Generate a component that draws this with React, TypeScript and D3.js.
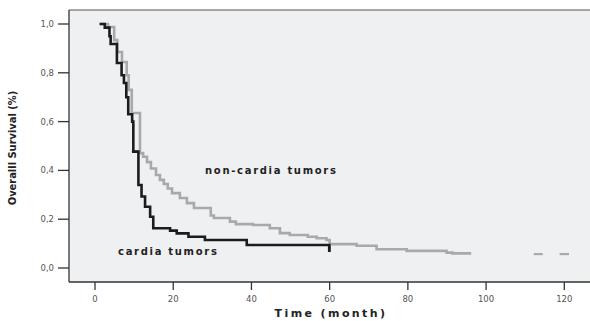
import * as d3 from "d3";

// Kaplan-Meier steps (month, survival)
const cardiaTime = [1.2, 2.5, 3.7, 4.0, 5.6, 6.8, 7.4, 8.0, 8.5, 9.5, 9.8, 11.1, 11.9, 12.8, 14.1, 14.9, 19.2, 20.9, 23.9, 28.1, 38.8, 59.9];
const cardiaSurv = [1.0, 0.985, 0.95, 0.918, 0.84, 0.79, 0.758, 0.7, 0.63, 0.6, 0.477, 0.34, 0.293, 0.251, 0.21, 0.163, 0.153, 0.142, 0.128, 0.115, 0.094, 0.066];
const cardiaCensor = [10.2];

const nonCardiaTime = [1.1, 3.3, 4.9, 5.7, 6.9, 8.1, 8.6, 9.4, 11.5, 12.3, 13.3, 14.3, 15.6, 16.6, 17.6, 18.6, 19.7, 21.7, 23.5, 25.3, 29.6, 30.4, 34.5, 36, 40.4, 44.7, 47.3, 49.8, 54.4, 56.7, 59.2, 60, 66.9, 72, 79.7, 89.9, 91.4, 96.2];
const nonCardiaSurv = [1.0, 0.988, 0.934, 0.885, 0.844, 0.79, 0.73, 0.635, 0.471, 0.456, 0.434, 0.408, 0.381, 0.361, 0.344, 0.326, 0.307, 0.287, 0.266, 0.246, 0.215, 0.205, 0.19, 0.18, 0.176, 0.163, 0.143, 0.135, 0.128, 0.122, 0.115, 0.098, 0.091, 0.077, 0.07, 0.063, 0.06, 0.06];
const nonCardiaCensorStart = [112.2, 118.8];
const nonCardiaCensorEnd = [114.5, 121.2];
const nonCardiaCensorSurv = 0.057;

const xTicks = [0, 20, 40, 60, 80, 100, 120];
const yTicks = [0, 0.2, 0.4, 0.6, 0.8, 1.0];

const W = 590;
const H = 321;

export default function App() {
  const x = d3.scaleLinear().domain([0, 120]).range([95, 564.3]);
  const y = d3.scaleLinear().domain([0, 1]).range([268, 24]);

  const frameLeft = 69;
  const frameTop = 10;
  const frameBottom = 282;

  const step = d3
    .line<[number, number]>()
    .x((d) => x(d[0]))
    .y((d) => y(d[1]))
    .curve(d3.curveStepAfter);

  const cardia: [number, number][] = cardiaTime.map((t, i) => [t, cardiaSurv[i]]);
  const nonCardia: [number, number][] = nonCardiaTime.map((t, i) => [t, nonCardiaSurv[i]]);

  const blackC = "#1c1c1c";
  const grayC = "#a9a9a9";

  // survival of a curve at a given time (for censor mark)
  const survAt = (times: number[], surv: number[], t: number) => {
    let s = surv[0];
    times.forEach((tt, i) => {
      if (tt <= t) s = surv[i];
    });
    return s;
  };

  return (
    <svg width={W} height={H} style={{ position: "absolute", left: 0, top: 0, background: "#fff" }}>
      <rect x={frameLeft} y={frameTop} width={W - frameLeft} height={frameBottom - frameTop} fill="#eff0f2" />
      <line x1={frameLeft} x2={W} y1={frameTop} y2={frameTop} stroke="#555" strokeWidth={1.2} />
      <line x1={frameLeft} x2={frameLeft} y1={frameTop} y2={frameBottom} stroke="#333" strokeWidth={1.3} />
      <line x1={frameLeft} x2={W} y1={frameBottom} y2={frameBottom} stroke="#333" strokeWidth={1.3} />

      {/* y axis */}
      {yTicks.map((v) => (
        <g key={v}>
          <line x1={58} x2={frameLeft} y1={y(v)} y2={y(v)} stroke="#333" strokeWidth={1.3} />
          <text
            x={54}
            y={y(v) + 3}
            textAnchor="end"
            fontFamily="DejaVu Sans, sans-serif"
            fontSize={8.5}
            fill="#555"
          >
            {v.toFixed(1).replace(".", ",")}
          </text>
        </g>
      ))}

      {/* x axis */}
      {xTicks.map((v) => (
        <g key={v}>
          <line x1={x(v)} x2={x(v)} y1={frameBottom} y2={frameBottom + 8} stroke="#333" strokeWidth={1.3} />
          <text
            x={x(v)}
            y={frameBottom + 20}
            textAnchor="middle"
            fontFamily="DejaVu Sans, sans-serif"
            fontSize={8.5}
            fill="#555"
          >
            {v}
          </text>
        </g>
      ))}

      <text
        x={331}
        y={317}
        textAnchor="middle"
        fontFamily="DejaVu Sans, sans-serif"
        fontWeight="bold"
        fontSize={11}
        letterSpacing={2.4}
        fill="#222"
      >
        Time (month)
      </text>
      <text
        transform={`translate(16,148) rotate(-90)`}
        textAnchor="middle"
        fontFamily="DejaVu Sans Condensed, Liberation Sans Narrow, sans-serif"
        fontWeight="bold"
        fontSize={11}
        fill="#222"
      >
        Overalll Survival (%)
      </text>

      {/* curves */}
      <path d={step(nonCardia) ?? ""} fill="none" stroke={grayC} strokeWidth={2.6} />
      {nonCardiaCensorStart.map((t, i) => (
        <line
          key={t}
          x1={x(t)}
          x2={x(nonCardiaCensorEnd[i])}
          y1={y(nonCardiaCensorSurv)}
          y2={y(nonCardiaCensorSurv)}
          stroke={grayC}
          strokeWidth={2.2}
        />
      ))}
      <path d={step(cardia) ?? ""} fill="none" stroke={blackC} strokeWidth={2.6} />
      <line
        x1={x(59.9)}
        x2={x(59.9)}
        y1={y(cardiaSurv[cardiaSurv.length - 2])}
        y2={y(cardiaSurv[cardiaSurv.length - 1])}
        stroke={blackC}
        strokeWidth={2.6}
      />
      {cardiaCensor.map((t) => (
        <line
          key={t}
          x1={x(t) - 3}
          x2={x(t) + 3}
          y1={y(survAt(cardiaTime, cardiaSurv, t))}
          y2={y(survAt(cardiaTime, cardiaSurv, t))}
          stroke={blackC}
          strokeWidth={2}
        />
      ))}

      {/* labels */}
      <text
        x={205}
        y={174}
        fontFamily="DejaVu Sans, sans-serif"
        fontWeight="bold"
        fontSize={10}
        letterSpacing={1.7}
        fill="#222"
      >
        non-cardia tumors
      </text>
      <text
        x={118}
        y={255}
        fontFamily="DejaVu Sans, sans-serif"
        fontWeight="bold"
        fontSize={10}
        letterSpacing={1.7}
        fill="#222"
      >
        cardia tumors
      </text>
    </svg>
  );
}
